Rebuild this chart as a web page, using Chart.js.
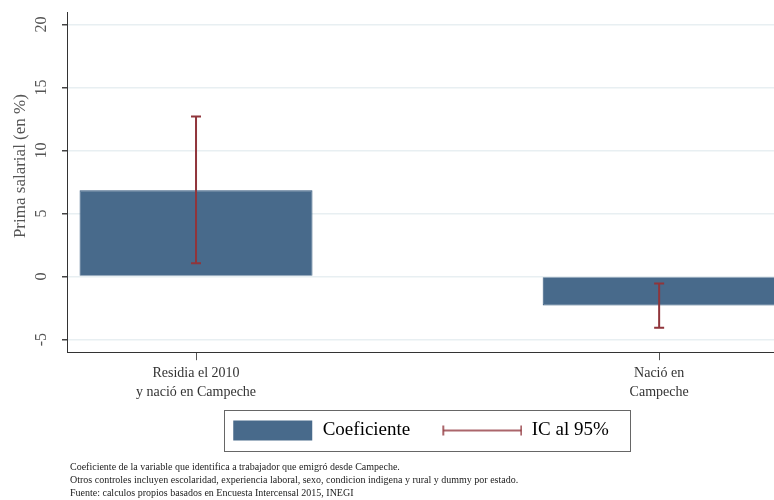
<!DOCTYPE html>
<html>
<head>
<meta charset="utf-8">
<script src="https://cdn.jsdelivr.net/npm/chart.js@4.4.0/dist/chart.umd.min.js"></script>
<style>
  html, body { margin: 0; padding: 0; background: #fff; }
</style>
</head>
<body>
<canvas id="chart" width="774" height="500"></canvas>
<script>
// data
const categories = [['Residia el 2010', 'y nació en Campeche'], ['Nació en', 'Campeche']];
const coef = [6.85, -2.3];
const ciLow = [1.05, -4.05];
const ciHigh = [12.7, -0.55];
const yTicks = [-5, 0, 5, 10, 15, 20];
const notes = [
    'Coeficiente de la variable que identifica a trabajador que emigró desde Campeche.',
    'Otros controles incluyen escolaridad, experiencia laboral, sexo, condicion indigena y rural y dummy por estado.',
    'Fuente: calculos propios basados en Encuesta Intercensal 2015, INEGI'
];

const barColor = '#486a8b';
const barEdge = '#2f547a';
const ciColor = '#90353b';
const serif = '"Liberation Serif", "DejaVu Serif", serif';
const symMargin = 17;

// legend symbols (drawn on small canvases, used as point styles)
function makeSymbol(draw) {
    const c = document.createElement('canvas');
    c.width = 80 + symMargin;
    c.height = 22;
    draw(c.getContext('2d'));
    return c;
}
const barSymbol = makeSymbol(ctx => {
    ctx.fillStyle = barColor;
    ctx.fillRect(symMargin, 1, 79, 20);
});
const ciSymbol = makeSymbol(ctx => {
    ctx.strokeStyle = ciColor;
    ctx.lineWidth = 1.5;
    ctx.beginPath();
    ctx.moveTo(symMargin + 1, 11); ctx.lineTo(symMargin + 79, 11);
    ctx.moveTo(symMargin + 1, 6); ctx.lineTo(symMargin + 1, 16);
    ctx.moveTo(symMargin + 79, 6); ctx.lineTo(symMargin + 79, 16);
    ctx.stroke();
});

// confidence intervals, drawn through the chart scales
const errorBars = {
    id: 'errorBars',
    afterDatasetsDraw(chart) {
        const { ctx, scales: { x, y } } = chart;
        ctx.save();
        ctx.strokeStyle = ciColor;
        ctx.lineWidth = 2;
        ciLow.forEach((lo, i) => {
            const px = x.getPixelForValue(i + 1);
            const top = y.getPixelForValue(ciHigh[i]);
            const bot = y.getPixelForValue(lo);
            ctx.beginPath();
            ctx.moveTo(px, top); ctx.lineTo(px, bot);
            ctx.moveTo(px - 5, top); ctx.lineTo(px + 5, top);
            ctx.moveTo(px - 5, bot); ctx.lineTo(px + 5, bot);
            ctx.stroke();
        });
        ctx.restore();
    }
};

// nudge legend and notes, and draw a frame round the legend
const legendFrame = {
    id: 'legendFrame',
    afterLayout(chart) {
        chart.legend.left -= 8;
        chart.legend.right -= 8;
        chart.titleBlock.left += 3;
        chart.titleBlock.right += 3;
    },
    afterDraw(chart) {
        const boxes = chart.legend.legendHitBoxes;
        if (!boxes || !boxes.length) return;
        const l = Math.min(...boxes.map(b => b.left)) + symMargin - 9;
        const r = Math.max(...boxes.map(b => b.left + b.width)) + 21;
        const t = Math.min(...boxes.map(b => b.top)) - 11;
        const btm = Math.max(...boxes.map(b => b.top + b.height)) + 11;
        const ctx = chart.ctx;
        ctx.save();
        ctx.strokeStyle = '#666';
        ctx.lineWidth = 1;
        ctx.strokeRect(Math.round(l) + 0.5, Math.round(t) + 0.5, Math.round(r - l), Math.round(btm - t));
        ctx.restore();
    }
};

// y title sits a bit above the middle of the axis, as in the original
function raiseTitle(s) {
    if (s._raised) return;
    const orig = s.drawTitle.bind(s);
    s.drawTitle = () => {
        s.ctx.save();
        s.ctx.translate(0, -16);
        orig();
        s.ctx.restore();
    };
    s._raised = true;
}

const ctx = document.getElementById('chart').getContext('2d');
new Chart(ctx, {
    type: 'bar',
    data: {
        datasets: [
            {
                label: 'Coeficiente',
                data: coef.map((v, i) => ({ x: i + 1, y: v })),
                backgroundColor: barColor,
                borderColor: barEdge,
                borderWidth: 1,
                barPercentage: 0.503,
                categoryPercentage: 1
            }
        ]
    },
    options: {
        responsive: false,
        animation: false,
        layout: { padding: { top: 12, right: 0, left: 0, bottom: 0 } },
        plugins: {
            tooltip: { enabled: false },
            legend: {
                position: 'bottom',
                fullSize: false,
                onClick: null,
                labels: {
                    usePointStyle: true,
                    pointStyleWidth: 80 + symMargin,
                    padding: 15,
                    color: '#222',
                    font: { family: serif, size: 19 },
                    generateLabels: () => [
                        { text: 'Coeficiente', pointStyle: barSymbol, fillStyle: barColor, strokeStyle: barColor, lineWidth: 0, hidden: false, datasetIndex: 0 },
                        { text: 'IC al 95%', pointStyle: ciSymbol, fillStyle: ciColor, strokeStyle: ciColor, lineWidth: 0, hidden: false, datasetIndex: 0 }
                    ]
                }
            },
            title: {
                display: true,
                position: 'bottom',
                align: 'start',
                fullSize: false,
                text: notes,
                color: '#222',
                font: { family: serif, size: 10, weight: 'normal', lineHeight: 1.3 },
                padding: { top: 11, bottom: 0 }
            }
        },
        scales: {
            x: {
                type: 'linear',
                min: 0.7214,
                max: 2.248,
                offset: false,
                afterBuildTicks: s => { s.ticks = categories.map((c, i) => ({ value: i + 1 })); },
                ticks: {
                    callback: (v, i) => categories[i],
                    autoSkip: false,
                    maxRotation: 0,
                    color: '#333',
                    padding: 4,
                    font: { family: serif, size: 14, lineHeight: 1.35 }
                },
                grid: { drawOnChartArea: false, tickLength: 8, tickColor: '#555', offset: false },
                border: { color: '#333' }
            },
            y: {
                min: -6,
                max: 21,
                afterBuildTicks: s => { s.ticks = yTicks.map(v => ({ value: v })); },
                afterFit: s => { s.paddingTop = 0; s.paddingBottom = 0; s.width = 67; raiseTitle(s); },
                ticks: {
                    callback: v => String(v),
                    minRotation: 90,
                    maxRotation: 90,
                    crossAlign: 'center',
                    padding: 12,
                    color: '#555',
                    font: { family: serif, size: 16 }
                },
                grid: { color: '#e8eff2', lineWidth: 1.5, tickColor: '#444', tickLength: 5 },
                border: { color: '#333' },
                title: {
                    display: true,
                    text: 'Prima salarial (en %)',
                    color: '#555',
                    font: { family: serif, size: 17 },
                    padding: { top: 10, bottom: 0 }
                }
            }
        }
    },
    plugins: [errorBars, legendFrame]
});
</script>
</body>
</html>
